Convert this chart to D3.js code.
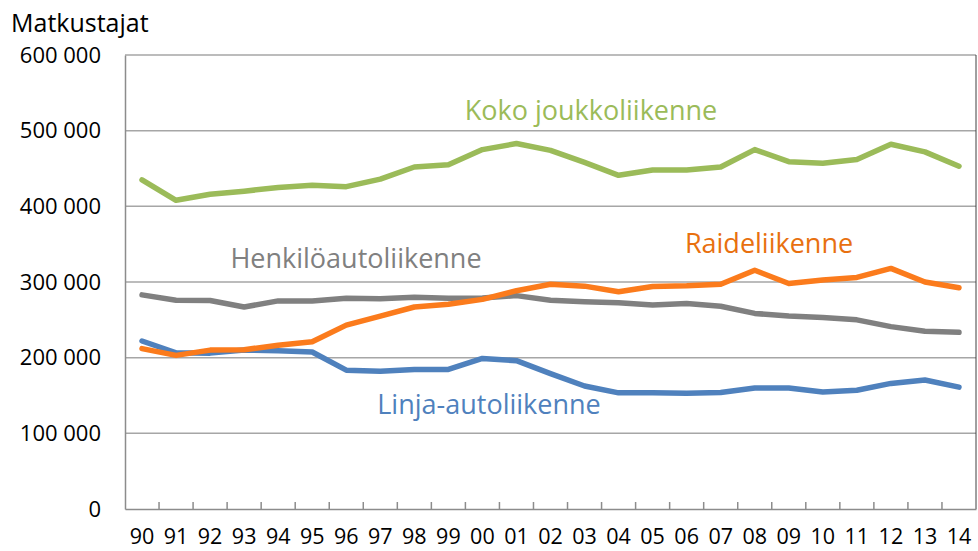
<!DOCTYPE html>
<html>
<head>
<meta charset="utf-8">
<script src="https://cdn.jsdelivr.net/npm/d3@7"></script>
<style>
  body { margin: 0; background: #fff; }
  svg { font-family: "Open Sans", sans-serif; }
</style>
</head>
<body>
<div id="chart"></div>
<script>
const years = ["90","91","92","93","94","95","96","97","98","99","00","01","02","03","04","05","06","07","08","09","10","11","12","13","14"];
const yTicks = [0, 100000, 200000, 300000, 400000, 500000, 600000];

const koko = [435000, 408000, 416000, 420000, 425000, 428000, 426000, 436000, 452000, 455000, 475000, 483000, 474000, 458000, 441000, 448000, 448000, 452000, 475000, 459000, 457000, 462000, 482000, 472000, 453000];
const henkilo = [283000, 276000, 275500, 267000, 275000, 275000, 278500, 278000, 280000, 278500, 279000, 282000, 276000, 274000, 272500, 269500, 271500, 268000, 258500, 255000, 253000, 250000, 241000, 235000, 233500];
const raide = [212000, 203000, 210000, 210500, 216500, 221000, 243000, 255000, 267000, 270500, 277000, 288500, 297000, 294500, 287000, 294000, 295000, 297000, 315500, 298000, 302500, 306000, 318000, 300000, 292500];
const linja = [222000, 206500, 206000, 210000, 209000, 207500, 183500, 182000, 184500, 184500, 199000, 196000, 179000, 162500, 153500, 153500, 153000, 154000, 160000, 160000, 154500, 157000, 166000, 170500, 161000];

const series = [
  {name: "Henkilöautoliikenne", values: henkilo, color: "#808080", text: "#808080", lx: 356, ly: 259},
  {name: "Linja-autoliikenne", values: linja, color: "#4f81bd", text: "#4f81bd", lx: 489, ly: 405},
  {name: "Raideliikenne", values: raide, color: "#fb7b1c", text: "#e8700f", lx: 769, ly: 244},
  {name: "Koko joukkoliikenne", values: koko, color: "#9bbb59", text: "#9bbb59", lx: 591, ly: 111}
];

const width = 978, height = 551;
const margin = {left: 125, right: 976, top: 55, bottom: 509};

const svg = d3.select("#chart").append("svg")
  .attr("width", width)
  .attr("height", height);

const x = d3.scaleBand().domain(years).range([margin.left, margin.right]);
const y = d3.scaleLinear().domain([0, 600000]).range([margin.bottom, margin.top]);

// gridlines
svg.append("g")
  .selectAll("line")
  .data(yTicks.filter(d => d > 0))
  .join("line")
  .attr("x1", margin.left).attr("x2", margin.right)
  .attr("y1", d => y(d)).attr("y2", d => y(d))
  .attr("stroke", "#a6a6a6")
  .attr("stroke-width", 1.5);

// right border
svg.append("line")
  .attr("x1", margin.right).attr("x2", margin.right)
  .attr("y1", margin.top).attr("y2", margin.bottom)
  .attr("stroke", "#404040")
  .attr("stroke-width", 1);

// y axis
const fmt = d => d === 0 ? "0" : d3.format(",")(d).replace(/,/g, " ");
svg.append("g")
  .attr("transform", `translate(${margin.left},0)`)
  .call(d3.axisLeft(y).tickValues(yTicks).tickSize(0).tickPadding(24).tickFormat(fmt))
  .call(g => g.select(".domain").attr("stroke", "#8c8c8c").attr("stroke-width", 1.5))
  .call(g => g.selectAll("text").attr("font-size", 22).attr("fill", "#000").attr("font-family", "Open Sans"));

// x axis
svg.append("g")
  .attr("transform", `translate(0,${margin.bottom})`)
  .call(d3.axisBottom(x).tickSize(0).tickPadding(20))
  .call(g => g.select(".domain").attr("stroke", "#8c8c8c").attr("stroke-width", 1.5))
  .call(g => g.selectAll("text").attr("font-size", 21.5).attr("fill", "#000").attr("font-family", "Open Sans"));

// x tick marks between categories
svg.append("g")
  .selectAll("line")
  .data(years.slice(1))
  .join("line")
  .attr("x1", d => x(d)).attr("x2", d => x(d))
  .attr("y1", margin.bottom).attr("y2", margin.bottom - 7)
  .attr("stroke", "#8c8c8c")
  .attr("stroke-width", 1.5);

const line = d3.line()
  .x((d, i) => x(years[i]) + x.bandwidth() / 2)
  .y(d => y(d));

svg.append("g")
  .selectAll("path")
  .data(series)
  .join("path")
  .attr("d", d => line(d.values))
  .attr("fill", "none")
  .attr("stroke", d => d.color)
  .attr("stroke-width", 5.5)
  .attr("stroke-linejoin", "round")
  .attr("stroke-linecap", "round");

svg.append("g")
  .selectAll("text")
  .data(series)
  .join("text")
  .attr("x", d => d.lx)
  .attr("y", d => d.ly)
  .attr("dy", "0.35em")
  .attr("text-anchor", "middle")
  .attr("font-size", 27)
  .attr("fill", d => d.text)
  .text(d => d.name);

svg.append("text")
  .attr("x", 11)
  .attr("y", 23)
  .attr("dy", "0.35em")
  .attr("font-size", 25)
  .attr("fill", "#000")
  .text("Matkustajat");
</script>
</body>
</html>
